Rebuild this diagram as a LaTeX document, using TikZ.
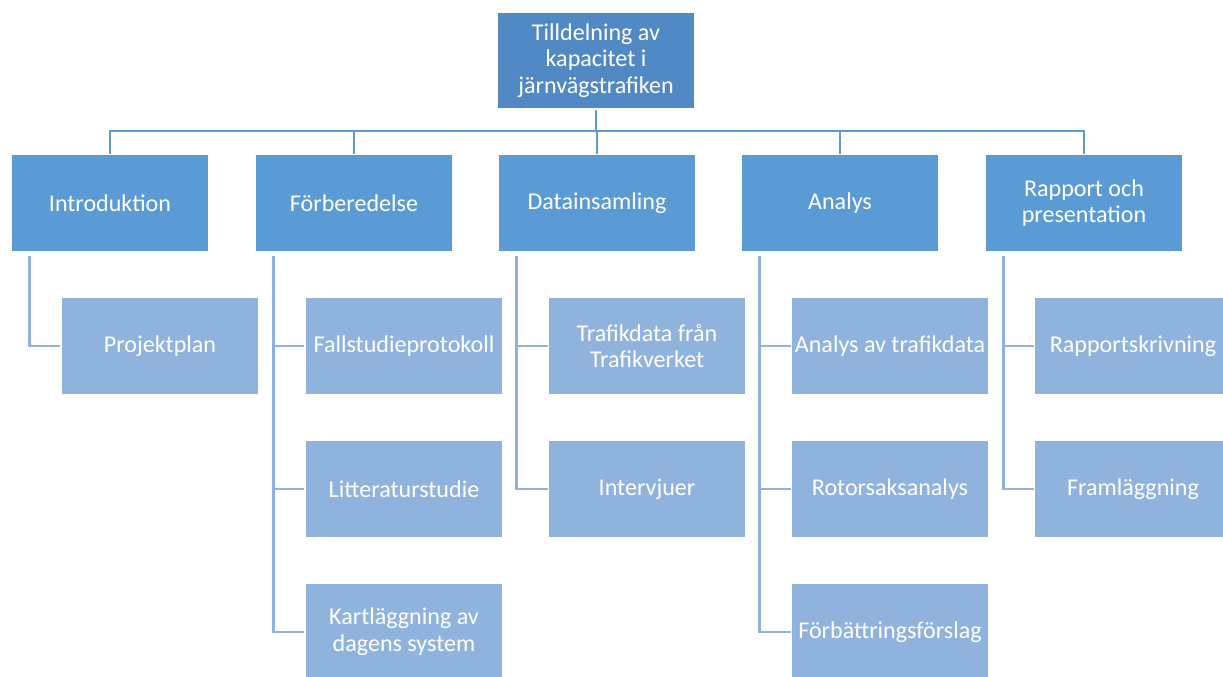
\documentclass[tikz,border=0pt]{standalone}
\usepackage{fontspec}
\setmainfont{Carlito}
\usepackage{xcolor}
\definecolor{root-fill}{HTML}{5089C4}
\definecolor{phase-fill}{HTML}{5B9BD5}
\definecolor{task-fill}{HTML}{90B3DE}
\definecolor{bus-line}{HTML}{5B9BD5}
\definecolor{sub-line}{HTML}{90B3DE}
\usetikzlibrary{positioning}

\begin{document}
\begin{tikzpicture}[
    x=0.02cm, y=-0.02cm,
    box/.style={
      rectangle,
      draw=white,
      line width=0.6pt,
      minimum width=3.96cm,
      minimum height=1.94cm,
      inner sep=0pt,
      font=\fontsize{13.7}{15.2}\selectfont,
      text=white,
      align=center
    },
    root/.style={box, fill=root-fill},
    phase/.style={box, fill=phase-fill},
    task/.style={box, fill=task-fill},
    bus/.style={line width=1.6pt, color=bus-line},
    sub/.style={line width=1.6pt, color=sub-line}
  ]
    \useasboundingbox (0,0) rectangle (1223,676);

    \node[root]  (root)  at (596, 60.5) {Tilldelning av\\kapacitet i\\järnvägstrafiken};

    \node[phase] (intro) at (110, 203) {Introduktion};
    \node[phase] (prep)  at (354, 203) {Förberedelse};
    \node[phase] (data)  at (597, 203) {Datainsamling};
    \node[phase] (anal)  at (840, 203) {Analys};
    \node[phase] (rep)   at (1084, 203) {Rapport och\\presentation};

    \node[task] (plan)   at (160, 346) {Projektplan};
    \node[task] (proto)  at (404, 346) {Fallstudieprotokoll};
    \node[task] (lit)    at (404, 489) {Litteraturstudie};
    \node[task] (karta)  at (404, 632) {Kartläggning av\\dagens system};
    \node[task] (traf)   at (647, 346) {Trafikdata från\\Trafikverket};
    \node[task] (intv)   at (647, 489) {Intervjuer};
    \node[task] (atraf)  at (890, 346) {Analys av trafikdata};
    \node[task] (rot)    at (890, 489) {Rotorsaksanalys};
    \node[task] (forb)   at (890, 632) {Förbättringsförslag};
    \node[task] (skriv)  at (1133, 346) {Rapportskrivning};
    \node[task] (fram)   at (1133, 489) {Framläggning};

    % root -> phases
    \coordinate (hub) at (596, 131);
    \draw[bus] (root.south) -- (hub);
    \foreach \p in {intro, prep, data, anal, rep}
      \draw[bus] (hub) -| (\p.north);

    % phases -> tasks
    \draw[sub] ([xshift=0.38cm, yshift=-2pt]intro.south west) |- (plan.west);
    \foreach \t in {proto, lit, karta}
      \draw[sub] ([xshift=0.38cm, yshift=-2pt]prep.south west) |- (\t.west);
    \foreach \t in {traf, intv}
      \draw[sub] ([xshift=0.38cm, yshift=-2pt]data.south west) |- (\t.west);
    \foreach \t in {atraf, rot, forb}
      \draw[sub] ([xshift=0.38cm, yshift=-2pt]anal.south west) |- (\t.west);
    \foreach \t in {skriv, fram}
      \draw[sub] ([xshift=0.38cm, yshift=-2pt]rep.south west) |- (\t.west);
  \end{tikzpicture}
\end{document}
